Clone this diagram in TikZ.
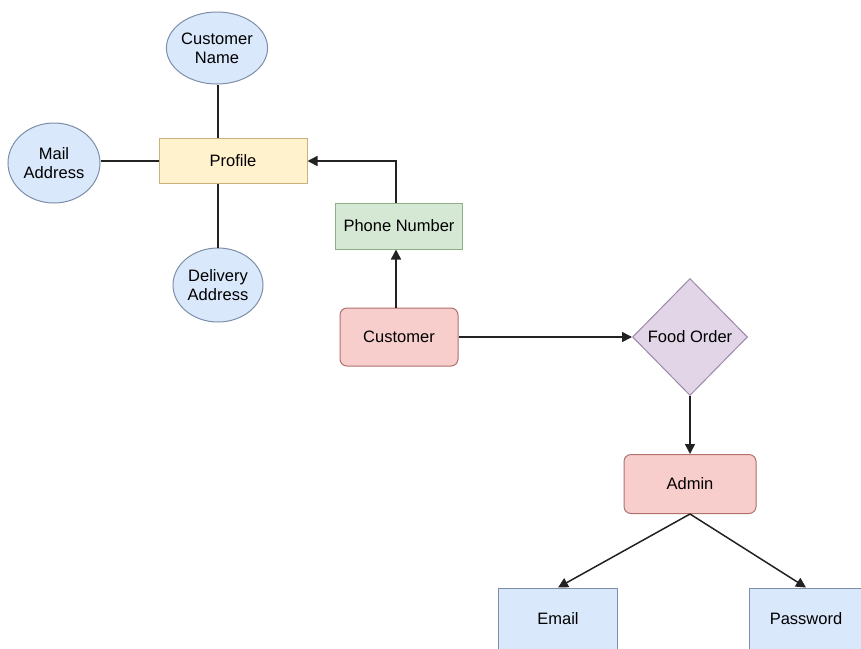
\documentclass[tikz,border=0pt]{standalone}
\usepackage{fontspec}
\setmainfont{Liberation Sans}
\usetikzlibrary{shapes.geometric,arrows.meta}
\definecolor{blueF}{HTML}{DAE8FC}
\definecolor{blueD}{HTML}{7D8FA8}
\definecolor{yelF}{HTML}{FFF2CC}
\definecolor{yelD}{HTML}{C9B27A}
\definecolor{greF}{HTML}{D5E8D4}
\definecolor{greD}{HTML}{8FAF88}
\definecolor{redF}{HTML}{F8CECC}
\definecolor{redD}{HTML}{B0706C}
\definecolor{purF}{HTML}{E1D5E7}
\definecolor{purD}{HTML}{9C88A8}
\definecolor{lineC}{HTML}{222222}
\begin{document}
\begin{tikzpicture}[x=1pt,y=-1pt,
  every node/.style={font=\fontsize{16.5}{19}\selectfont, inner sep=0pt, line width=1pt},
  attr/.style={ellipse, draw=blueD, fill=blueF, align=center},
  conn/.style={draw=lineC, line width=1.5pt},
  arr/.style={conn, -{Triangle[length=10pt,width=10pt]}}]
\useasboundingbox (0,0) rectangle (861,648);
\fill[white] (0,0) rectangle (861,648);
% attributes
\node[attr, minimum width=88pt, minimum height=72pt] (cn) at (217,48) {Customer\\Name};
\node[attr, minimum width=92pt, minimum height=80pt] (ma) at (54,163) {Mail\\Address};
\node[attr, minimum width=90pt, minimum height=74pt] (da) at (218,285) {Delivery\\Address};
% boxes
\node[draw=yelD, fill=yelF, minimum width=148pt, minimum height=45pt] (prof) at (233,161) {Profile};
\node[draw=greD, fill=greF, minimum width=127pt, minimum height=46pt] (ph) at (399,226) {Phone Number};
\node[draw=redD, fill=redF, rounded corners=7pt, minimum width=118pt, minimum height=58pt] (cust) at (399,337) {Customer};
\node[diamond, draw=purD, fill=purF, minimum width=115pt, minimum height=117pt] (fo) at (690,337) {};
\node at (690,337) {Food Order};
\node[draw=redD, fill=redF, rounded corners=7pt, minimum width=132pt, minimum height=59pt] (adm) at (690,484) {Admin};
\node[draw=blueD, fill=blueF, minimum width=119pt, minimum height=62pt] (em) at (558,619) {Email};
\node[draw=blueD, fill=blueF, minimum width=114pt, minimum height=62pt] (pw) at (806,619) {Password};
% connectors
\draw[conn] (prof.north -| 218,0) -- (cn.south -| 218,0);
\draw[conn] (prof.south -| 218,0) -- (da.north -| 218,0);
\draw[conn] (ma.east |- prof.west) -- (prof.west);
\draw[arr] (ph.north -| 396,0) -- (396,161) -- (prof.east);
\draw[arr] (cust.north -| 396,0) -- (ph.south -| 396,0);
\draw[arr] (cust.east) -- (fo.west);
\draw[arr] (fo.south) -- (adm.north);
\draw[arr] (adm.south) -- (em.north);
\draw[arr] (adm.south) -- (pw.north);
\end{tikzpicture}
\end{document}
